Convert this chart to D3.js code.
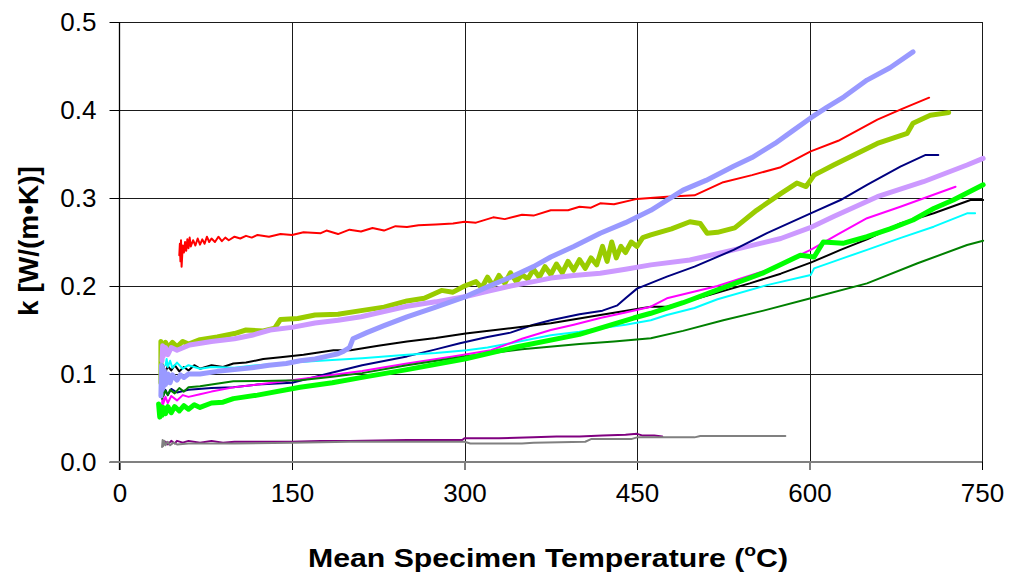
<!DOCTYPE html>
<html>
<head>
<meta charset="utf-8">
<script src="https://cdn.jsdelivr.net/npm/d3@7"></script>
<style>
  body { margin: 0; background: #fff; }
  text { font-family: "Liberation Sans", Arial, sans-serif; fill: #000; }
</style>
</head>
<body>
<div id="chart"></div>
<script>
// tick values
var xTicks = [0, 150, 300, 450, 600, 750];
var yTicks = [0, 0.1, 0.2, 0.3, 0.4, 0.5];

// series values: [mean temperature (C), k (W/(m K))]
var redSeries = [[52,0.235],[52.5,0.248],[53,0.228],[53.5,0.252],[54,0.222],[55,0.246],[56,0.238],[57,0.25],[58,0.24],
  [59,0.253],[60,0.243],[61,0.255],[62,0.245],[64,0.252],[66,0.246],[68,0.254],[70,0.247],[72,0.253],[74,0.248],
  [76,0.256],[78,0.25],[80,0.254],[83,0.25],[86,0.256],[89,0.251],[92,0.255],[95,0.252],[100,0.256],[105,0.254],
  [110,0.257],[115,0.255],[120,0.258],[130,0.256],[140,0.259],[150,0.258],[160,0.261],[175,0.26],[180,0.263],
  [190,0.259],[200,0.264],[210,0.262],[220,0.266],[230,0.263],[240,0.268],[250,0.267],[260,0.269],[275,0.27],
  [290,0.271],[300,0.273],[310,0.272],[325,0.278],[335,0.276],[350,0.281],[360,0.28],[375,0.286],[390,0.286],
  [400,0.29],[410,0.289],[418,0.294],[430,0.293],[450,0.299],[476,0.3015],[500,0.303],[525,0.318],
  [550,0.326],[575,0.335],[601,0.353],[625,0.365],[659,0.389],[680,0.401],[704,0.414]];

var yellowGreenSeries = [[36,0.09],[36,0.137],[38,0.128],[40,0.136],[42,0.13],[46,0.136],[50,0.131],[55,0.137],[60,0.134],
  [70,0.139],[85,0.142],[100,0.146],[110,0.15],[125,0.149],[135,0.152],[140,0.162],[155,0.163],[170,0.167],
  [190,0.168],[210,0.172],[230,0.176],[250,0.183],[265,0.186],[280,0.195],[290,0.193],[300,0.2],[310,0.205],
  [315,0.198],[320,0.21],[325,0.2],[330,0.212],[335,0.203],[340,0.215],[345,0.205],[350,0.213],[355,0.208],
  [360,0.219],[365,0.21],[370,0.222],[375,0.213],[380,0.225],[385,0.215],[390,0.228],[395,0.218],[400,0.23],
  [405,0.22],[410,0.232],[415,0.224],[420,0.245],[424,0.228],[428,0.25],[432,0.232],[436,0.245],[440,0.238],
  [445,0.25],[450,0.245],[455,0.255],[462,0.258],[480,0.265],[496,0.273],[505,0.271],[511,0.26],[520,0.261],
  [535,0.266],[554,0.286],[575,0.305],[589,0.317],[597,0.313],[604,0.326],[621,0.3375],[659,0.362],
  [685,0.3735],[690,0.385],[705,0.394],[721,0.397]];

var lavenderSeries = [[37,0.115],[37.5,0.132],[38,0.12],[40,0.13],[42,0.122],[45,0.13],[50,0.127],[61,0.133],[80,0.137],
  [100,0.14],[115,0.144],[131,0.15],[150,0.153],[170,0.158],[190,0.161],[210,0.165],[230,0.171],[250,0.177],
  [275,0.182],[301,0.188],[320,0.194],[340,0.2],[360,0.205],[375,0.209],[395,0.212],[418,0.2144],[440,0.219],
  [462,0.224],[496,0.2295],[534,0.241],[575,0.254],[600,0.266],[621,0.279],[659,0.3015],[699,0.3185],
  [737,0.3375],[751,0.345]];

var navySeries = [[37,0.072],[37.5,0.085],[38,0.075],[40,0.082],[42,0.076],[45,0.083],[50,0.079],[60,0.082],[80,0.084],
  [99,0.085],[120,0.088],[150,0.09],[180,0.1],[211,0.11],[250,0.12],[275,0.128],[296,0.135],[320,0.142],
  [340,0.147],[360,0.156],[375,0.161],[400,0.168],[420,0.172],[433,0.178],[440,0.186],[450,0.197],[476,0.2106],
  [500,0.222],[534,0.241],[563,0.26],[601,0.2826],[627,0.2977],[650,0.315],[679,0.3356],[701,0.349],[712,0.349]];

var blackSeries = [[37,0.1],[38,0.11],[40,0.102],[42,0.109],[45,0.104],[48,0.11],[52,0.103],[56,0.108],[60,0.104],
  [65,0.11],[70,0.106],[80,0.11],[90,0.108],[99,0.112],[110,0.113],[125,0.117],[140,0.119],[160,0.122],
  [186,0.127],[201,0.127],[225,0.132],[250,0.137],[275,0.141],[301,0.146],[340,0.152],[375,0.1576],[418,0.167],
  [462,0.1765],[476,0.1765],[500,0.185],[548,0.203],[575,0.214],[601,0.2265],[627,0.241],[650,0.253],
  [679,0.271],[708,0.2826],[740,0.2977],[751,0.2977]];

var cyanSeries = [[40,0.11],[41,0.117],[42,0.108],[44,0.115],[46,0.107],[50,0.113],[55,0.106],[60,0.11],[70,0.106],
  [80,0.108],[100,0.107],[120,0.11],[140,0.112],[160,0.114],[185,0.116],[211,0.118],[250,0.122],[275,0.124],
  [302,0.127],[320,0.13],[340,0.135],[375,0.144],[400,0.148],[418,0.152],[440,0.156],[462,0.161],[476,0.167],
  [500,0.175],[520,0.185],[563,0.201],[601,0.2125],[604,0.22],[630,0.232],[650,0.241],[680,0.255],
  [708,0.2674],[737,0.2826],[744,0.2826]];

var magentaSeries = [[37,0.065],[37.5,0.076],[38,0.066],[40,0.074],[42,0.067],[45,0.075],[50,0.07],[55,0.076],
  [60,0.074],[70,0.077],[80,0.08],[99,0.0848],[120,0.088],[150,0.093],[180,0.098],[211,0.1034],[250,0.112],
  [290,0.12],[323,0.127],[350,0.14],[375,0.15],[395,0.156],[418,0.1636],[440,0.17],[462,0.1765],[476,0.186],
  [520,0.2],[563,0.218],[601,0.241],[625,0.259],[650,0.277],[679,0.29],[700,0.3],[727,0.3128]];

var darkGreenSeries = [[37,0.072],[37.5,0.082],[38,0.075],[40,0.081],[42,0.076],[44,0.082],[48,0.078],[52,0.084],
  [56,0.08],[60,0.085],[70,0.086],[80,0.088],[99,0.0917],[125,0.092],[157,0.093],[185,0.097],[211,0.101],
  [250,0.11],[300,0.12],[350,0.128],[400,0.134],[430,0.137],[462,0.1406],[490,0.149],[525,0.161],[560,0.172],
  [601,0.186],[650,0.203],[694,0.2258],[737,0.2466],[751,0.2515]];

var greenSeries = [[34,0.066],[35,0.051],[36,0.063],[37,0.053],[38,0.062],[40,0.055],[42,0.063],[45,0.056],[48,0.063],
  [52,0.058],[56,0.064],[60,0.06],[65,0.065],[70,0.062],[80,0.067],[90,0.068],[99,0.072],[120,0.076],
  [157,0.085],[185,0.09],[211,0.0962],[250,0.105],[300,0.117],[346,0.131],[400,0.145],[447,0.1636],
  [462,0.169],[490,0.181],[520,0.1955],[560,0.215],[592,0.235],[604,0.233],[612,0.25],[629,0.2485],[650,0.256],
  [670,0.265],[690,0.275],[708,0.288],[725,0.2977],[751,0.315]];

var lightBlueSeries = [[36,0.075],[36.5,0.11],[37,0.082],[37.5,0.107],[38,0.085],[39,0.104],[40,0.088],[42,0.1],
  [44,0.09],[46,0.099],[50,0.093],[53,0.099],[56,0.096],[60,0.1],[70,0.1],[85,0.103],[100,0.105],[115,0.107],
  [130,0.11],[145,0.112],[157,0.115],[170,0.117],[180,0.12],[190,0.123],[195,0.126],[200,0.13],[203,0.14],
  [215,0.147],[230,0.155],[250,0.165],[275,0.176],[301,0.188],[320,0.199],[340,0.21],[360,0.222],[375,0.233],
  [395,0.245],[418,0.26],[440,0.272],[462,0.286],[490,0.309],[510,0.32],[534,0.336],[550,0.346],[570,0.362],
  [585,0.376],[601,0.391],[615,0.403],[630,0.415],[650,0.434],[670,0.448],[690,0.466]];

var purpleSeries = [[40,0.023],[42,0.02],[45,0.024],[48,0.021],[50,0.024],[55,0.022],[60,0.024],[70,0.022],
  [80,0.024],[90,0.022],[100,0.023],[120,0.023],[150,0.023],[175,0.024],[200,0.024],[250,0.025],[298,0.025],
  [300,0.027],[330,0.027],[360,0.028],[380,0.029],[400,0.029],[420,0.03],[440,0.031],[450,0.032],[455,0.03],
  [465,0.03],[472,0.029]];

var graySeries = [[37,0.017],[37.5,0.025],[38,0.018],[39,0.024],[40,0.019],[42,0.023],[44,0.019],[47,0.022],
  [50,0.02],[60,0.021],[70,0.021],[100,0.021],[150,0.022],[200,0.023],[300,0.023],[305,0.021],[350,0.021],
  [360,0.022],[405,0.023],[410,0.026],[445,0.026],[450,0.028],[500,0.028],[505,0.0295],[579,0.0295]];

var series = [
  { data: redSeries,         color: "#FF0000", width: 2 },
  { data: yellowGreenSeries, color: "#99CC00", width: 5 },
  { data: lavenderSeries,    color: "#CC99FF", width: 5 },
  { data: navySeries,        color: "#000080", width: 2 },
  { data: blackSeries,       color: "#000000", width: 2 },
  { data: cyanSeries,        color: "#00FFFF", width: 2 },
  { data: magentaSeries,     color: "#FF00FF", width: 2 },
  { data: darkGreenSeries,   color: "#008000", width: 2 },
  { data: greenSeries,       color: "#00FF00", width: 5 },
  { data: lightBlueSeries,   color: "#9999FF", width: 5 },
  { data: purpleSeries,      color: "#800080", width: 2 },
  { data: graySeries,        color: "#808080", width: 2 }
];

var cfg = {
  width: 1010,
  height: 576,
  left: 119.5,
  right: 982,
  top: 22,
  bottom: 462
};

var svg = d3.select("#chart").append("svg")
  .attr("width", cfg.width)
  .attr("height", cfg.height);

var x = d3.scaleLinear().domain([0, 750]).range([cfg.left, cfg.right]);
var y = d3.scaleLinear().domain([0, 0.5]).range([cfg.bottom, cfg.top]);

// gridlines
svg.append("g").selectAll("line")
  .data(xTicks.slice(1)).enter()
  .append("line")
  .attr("x1", function(d) { return Math.round(x(d)) + 0.5; })
  .attr("x2", function(d) { return Math.round(x(d)) + 0.5; })
  .attr("y1", cfg.top)
  .attr("y2", cfg.bottom)
  .style("stroke", "#1a1a1a")
  .style("stroke-width", 1);

svg.append("g").selectAll("line")
  .data(yTicks.slice(1)).enter()
  .append("line")
  .attr("x1", cfg.left)
  .attr("x2", cfg.right)
  .attr("y1", function(d) { return Math.round(y(d)) + 0.5; })
  .attr("y2", function(d) { return Math.round(y(d)) + 0.5; })
  .style("stroke", "#1a1a1a")
  .style("stroke-width", 1);

// axes
var xAxis = d3.axisBottom(x).tickValues(xTicks).tickSize(8).tickPadding(14).tickFormat(d3.format("d"));
var yAxis = d3.axisLeft(y).tickValues(yTicks).tickSize(10).tickPadding(13).tickFormat(d3.format(".1f"));

var gx = svg.append("g")
  .attr("transform", "translate(0," + cfg.bottom + ")")
  .call(xAxis);
gx.select(".domain").remove();
gx.selectAll(".tick line").style("stroke", "#000");
gx.selectAll("text").style("font-size", "26px");

var gy = svg.append("g")
  .attr("transform", "translate(" + cfg.left + ",0)")
  .call(yAxis);
gy.select(".domain").remove();
gy.selectAll(".tick line").style("stroke", "#000");
gy.selectAll("text").style("font-size", "26px");

// left axis line and gray zero line
svg.append("line")
  .attr("x1", cfg.left).attr("x2", cfg.left)
  .attr("y1", cfg.top).attr("y2", cfg.bottom + 8)
  .style("stroke", "#000")
  .style("stroke-width", 1.3);

svg.append("line")
  .attr("x1", cfg.left - 10).attr("x2", cfg.right)
  .attr("y1", cfg.bottom).attr("y2", cfg.bottom)
  .style("stroke", "#808080")
  .style("stroke-width", 2);

// series
var line = d3.line()
  .x(function(d) { return x(d[0]); })
  .y(function(d) { return y(d[1]); });

svg.append("g").selectAll("path")
  .data(series).enter()
  .append("path")
  .attr("d", function(d) { return line(d.data); })
  .style("fill", "none")
  .style("stroke", function(d) { return d.color; })
  .style("stroke-width", function(d) { return d.width; })
  .style("stroke-linejoin", "round")
  .style("stroke-linecap", "round");

// axis titles
var xTitle = svg.append("text")
  .attr("x", 308)
  .attr("y", 567)
  .attr("textLength", 480)
  .attr("lengthAdjust", "spacingAndGlyphs")
  .style("font-size", "25px")
  .style("font-weight", "bold");
xTitle.append("tspan").text("Mean Specimen Temperature (");
xTitle.append("tspan").attr("dy", -11).style("font-size", "16px").text("o");
xTitle.append("tspan").attr("dy", 11).text("C)");

svg.append("text")
  .attr("transform", "translate(38,241) rotate(-90)")
  .attr("text-anchor", "middle")
  .style("font-size", "28px")
  .style("font-weight", "bold")
  .text("k [W/(m\u2022K)]");
</script>
</body>
</html>
